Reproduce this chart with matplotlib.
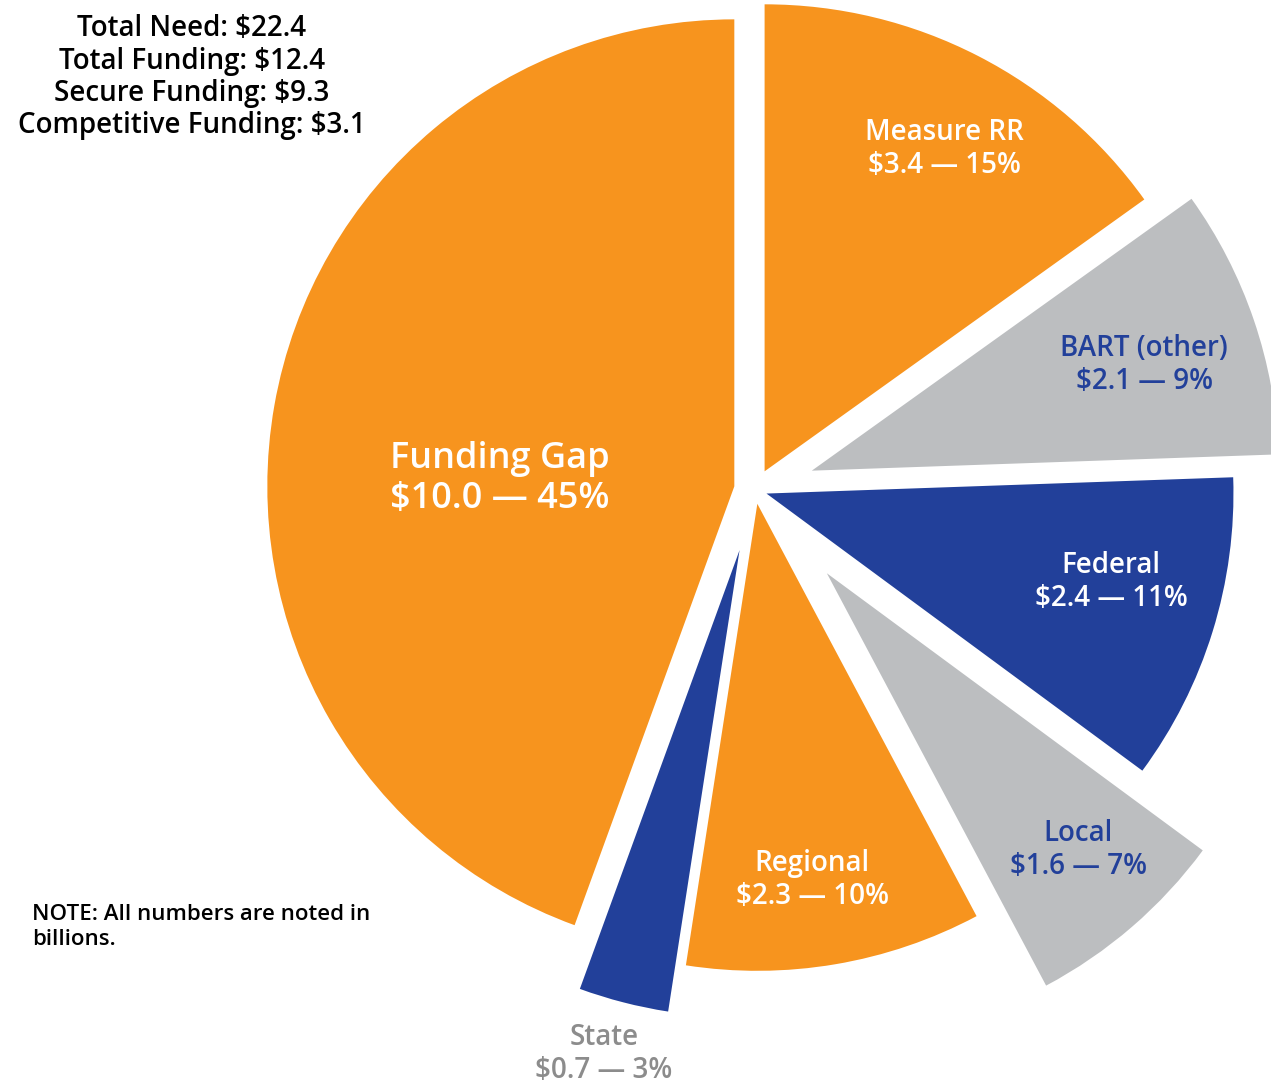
import numpy as np
import matplotlib
matplotlib.use("Agg")
import matplotlib.pyplot as plt

# slices, clockwise from 12 o'clock (billions)
names = ["Measure RR", "BART (other)", "Federal", "Local", "Regional", "State", "Funding Gap"]
amounts = [3.4, 2.1, 2.4, 1.6, 2.3, 0.7, 10.0]
shares = [15, 9, 11, 7, 10, 3, 45]

summary = ["Total Need: $22.4", "Total Funding: $12.4",
           "Secure Funding: $9.3", "Competitive Funding: $3.1"]
note = "NOTE: All numbers are noted in\nbillions."

ORANGE = "#F7941E"
GRAY = "#BCBEC0"
BLUE = "#22409A"
colors = [ORANGE, GRAY, BLUE, GRAY, ORANGE, BLUE, ORANGE]
text_colors = ["white", BLUE, "white", BLUE, "white", "#8C8C8C", "white"]

# explode offsets in pixels
explode = [21, 60, 12, 110, 14, 62, 21]

W, H = 1271, 1083
fig = plt.figure(figsize=(W / 100, H / 100), dpi=100)
ax = fig.add_axes([0, 0, 1, 1])

cx, cy = 755, 490
R = 467
ax.pie(amounts, colors=colors, explode=explode, startangle=90, counterclock=False,
       center=(cx, H - cy), radius=R, wedgeprops=dict(linewidth=0), frame=True)
ax.set_xlim(0, W)
ax.set_ylim(0, H)
ax.set_aspect("equal")
ax.axis("off")

plt.rcParams["font.family"] = ["Open Sans", "DejaVu Sans"]

# label positions (pixel, y down)
label_pos = [(944, 149), (1144, 365), (1111, 582), (1078, 850),
             (812, 880), (604, 1054), (500, 479)]
for i in range(len(names)):
    x, y = label_pos[i]
    txt = "{}\n${:.1f} — {}%".format(names[i], amounts[i], shares[i])
    big = names[i] == "Funding Gap"
    ax.text(x, H - y, txt, ha="center", va="center", color=text_colors[i],
            fontsize=26 if big else 20, fontweight="semibold",
            linespacing=1.17 if big else 1.22)

for k, line in enumerate(summary):
    ax.text(192, H - (29 + 32 * k), line, ha="center", va="center",
            color="black", fontsize=20, fontweight="semibold")

ax.text(32, H - 927, note, ha="left", va="center", color="black",
        fontsize=16, fontweight="semibold", linespacing=1.2)

fig.savefig("out.png", dpi=100)
